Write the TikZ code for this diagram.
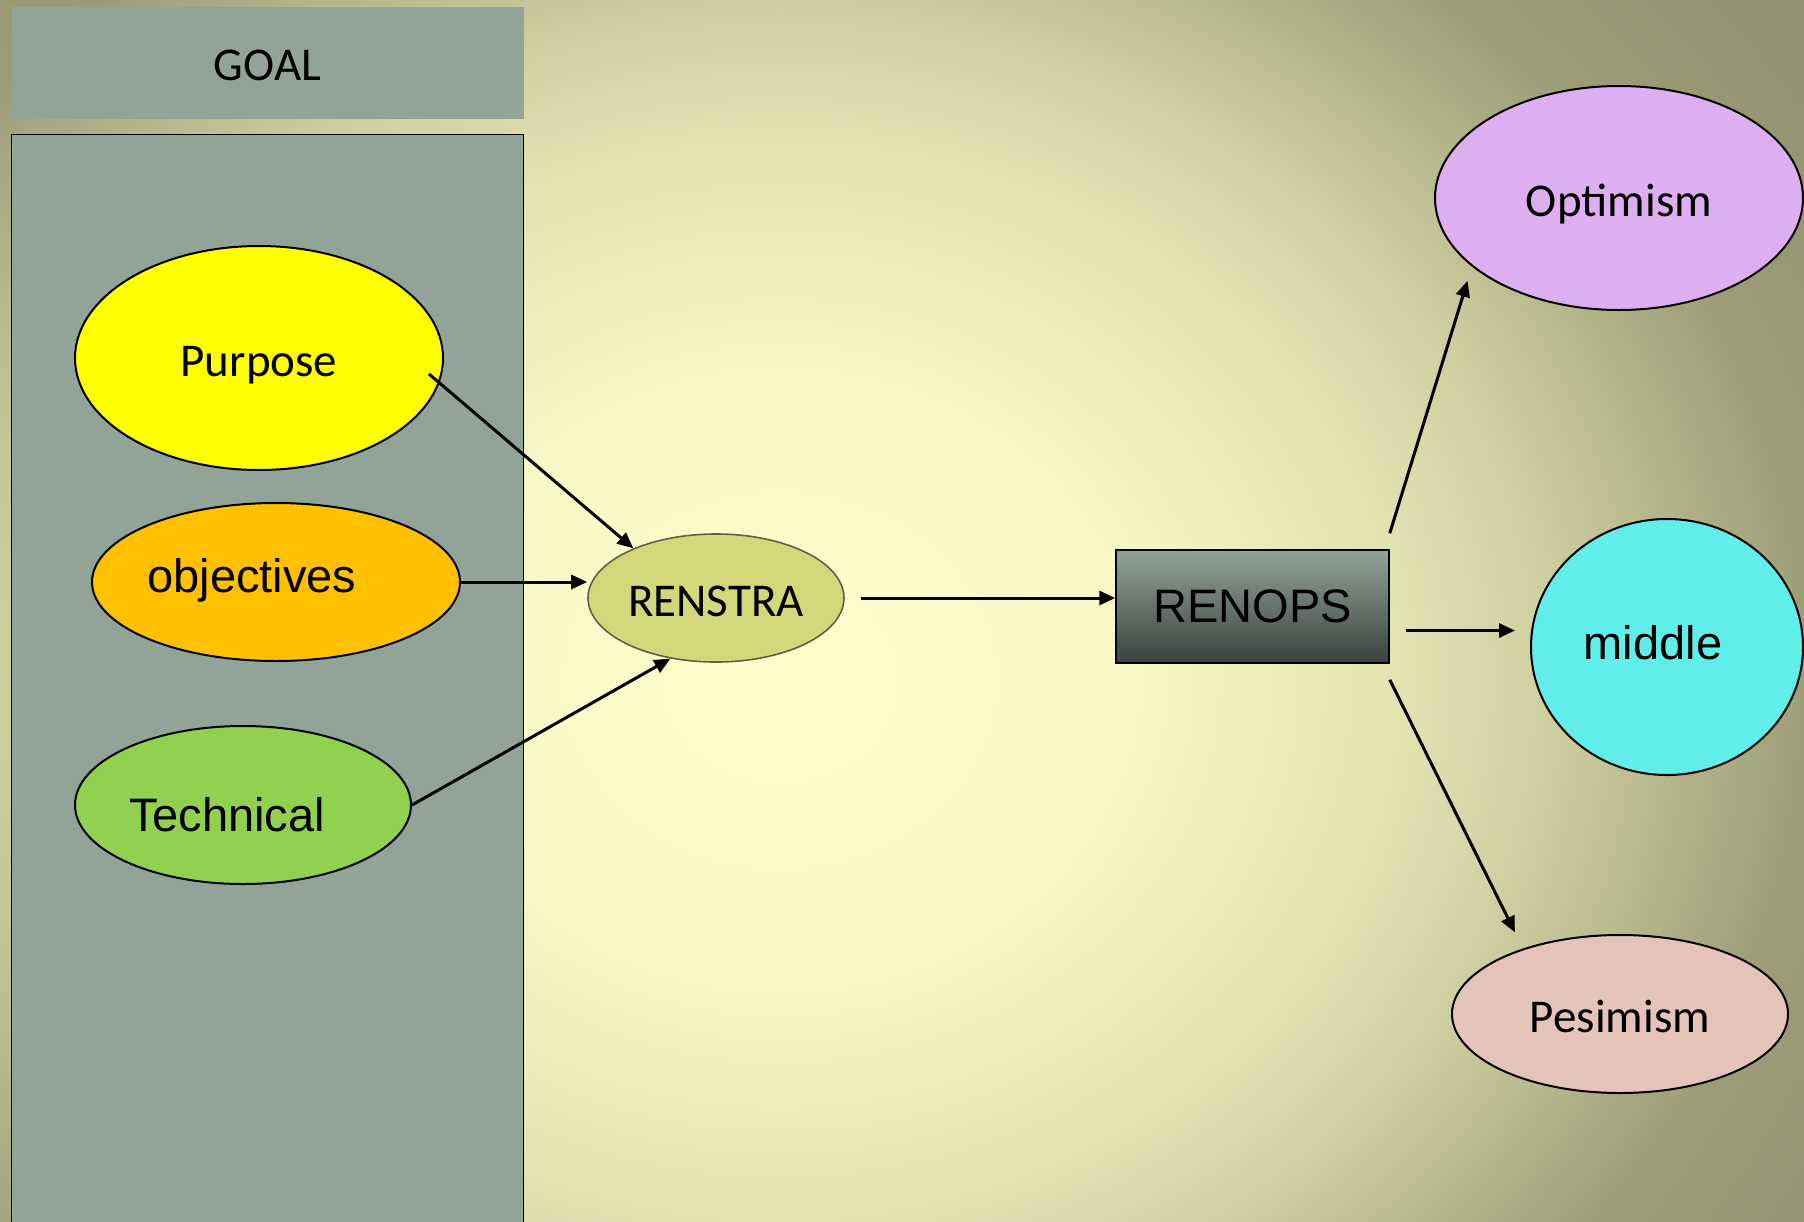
\documentclass[tikz,border=0pt]{standalone}
\usepackage{fontspec}
\setmainfont{Carlito}
\newfontfamily\arialfont{Liberation Sans}
\usetikzlibrary{shapes.geometric}
\usetikzlibrary{arrows.meta}
\definecolor{bgA}{HTML}{FFFFCC}
\definecolor{bgB}{HTML}{F8F8C6}
\definecolor{bgC}{HTML}{E3E3B2}
\definecolor{bgD}{HTML}{CCCC9E}
\definecolor{bgE}{HTML}{9C9C77}
\definecolor{bgF}{HTML}{8E8E6C}
\definecolor{panelgray}{HTML}{92A398}
\definecolor{purposeyellow}{HTML}{FFFF00}
\definecolor{objorange}{HTML}{FFC000}
\definecolor{techgreen}{HTML}{92D050}
\definecolor{renstrafill}{HTML}{D4D67A}
\definecolor{renstraline}{HTML}{5F5F4A}
\definecolor{renopstop}{HTML}{92A49A}
\definecolor{renopsbottom}{HTML}{3A423D}
\definecolor{optpurple}{HTML}{DDAEF0}
\definecolor{midcyan}{HTML}{61EEEA}
\definecolor{pesipink}{HTML}{E4C3B8}
\pgfdeclareradialshading{glow}{\pgfpointorigin}{color(0bp)=(bgA); color(6.25bp)=(bgB); color(11.25bp)=(bgC); color(14.17bp)=(bgD); color(18.75bp)=(bgE); color(25bp)=(bgF); color(50bp)=(bgF)}
\tikzstyle{oval}=[ellipse, draw=black, line width=1pt, inner sep=0pt]

\begin{document}
\begin{tikzpicture}[x=0.5pt,y=-0.5pt]
  \tikzstyle{calfont}=[font=\fontsize{23.5}{28}\selectfont,text height=18pt,text depth=0pt]
  \tikzstyle{arialfont}=[font=\arialfont\fontsize{23.5}{28}\selectfont]
  \tikzstyle{arr}=[line width=1.5pt,-{Triangle[length=8pt,width=7pt]}]
  \useasboundingbox (0,0) rectangle (1804,1221);
  \begin{scope}
    \clip (0,0) rectangle (1804,1221);
    \shade[shading=glow] (-600,-520) rectangle (2160,1880);
  \end{scope}
  \node (goal) at (267.5,62.75) [rectangle,fill=panelgray,minimum width=256pt,minimum height=55.75pt,calfont] {GOAL};
  \node (panel) at (267.5,687.3) [rectangle,fill=panelgray,draw=black,line width=0.75pt,minimum width=256pt,minimum height=552.7pt] {};
  \node (purpose) at (259,358) [oval,fill=purposeyellow,minimum width=184pt,minimum height=112pt,calfont] {Purpose};
  \node (objectives) at (276,582) [oval,fill=objorange,minimum width=184pt,minimum height=79pt,arialfont,text height=17pt,text depth=7pt] {objectives\kern24pt};
  \node (technical) at (243,805) [oval,fill=techgreen,minimum width=168pt,minimum height=79pt,arialfont,text height=26.2pt,text depth=0pt] {Technical\kern16pt};
  \node (renstra) at (716,598) [oval,draw=renstraline,line width=0.8pt,fill=renstrafill,minimum width=128pt,minimum height=64pt,calfont] {RENSTRA};
  \node (renops) at (1252.5,606.5) [rectangle,draw=black,line width=0.75pt,top color=renopstop,bottom color=renopsbottom,minimum width=136.5pt,minimum height=56.5pt,arialfont] {RENOPS};
  \node (optimism) at (1619,198) [oval,fill=optpurple,minimum width=184pt,minimum height=112pt,calfont] {Optimism};
  \node (middle) at (1667,647) [oval,fill=midcyan,minimum width=136pt,minimum height=128pt,arialfont,text height=17pt,text depth=4.6pt] {middle\kern14pt};
  \node (pesimism) at (1620,1014) [oval,fill=pesipink,minimum width=168pt,minimum height=79pt,calfont] {Pesimism};
  \draw [arr] ([shift={(-15,16)}]purpose.east) -- (renstra.149);
  \draw [arr] (objectives.east) -- (objectives.east -| renstra.west);
  \draw [arr] (technical.east) -- (renstra.233);
  \draw [arr,shorten <=8pt] (renstra.east) -- (renstra.east -| renops.west);
  \draw [arr,shorten >=7.5pt] ([yshift=8pt]renops.north east) -- (optimism.205);
  \draw [arr,shorten <=8pt,shorten >=7.5pt] ([yshift=-12pt]renops.east) -- ([yshift=-12pt]renops.east -| middle.west);
  \draw [arr,shorten >=9pt] ([yshift=-8pt]renops.south east) -- (pesimism.146);
\end{tikzpicture}
\end{document}
